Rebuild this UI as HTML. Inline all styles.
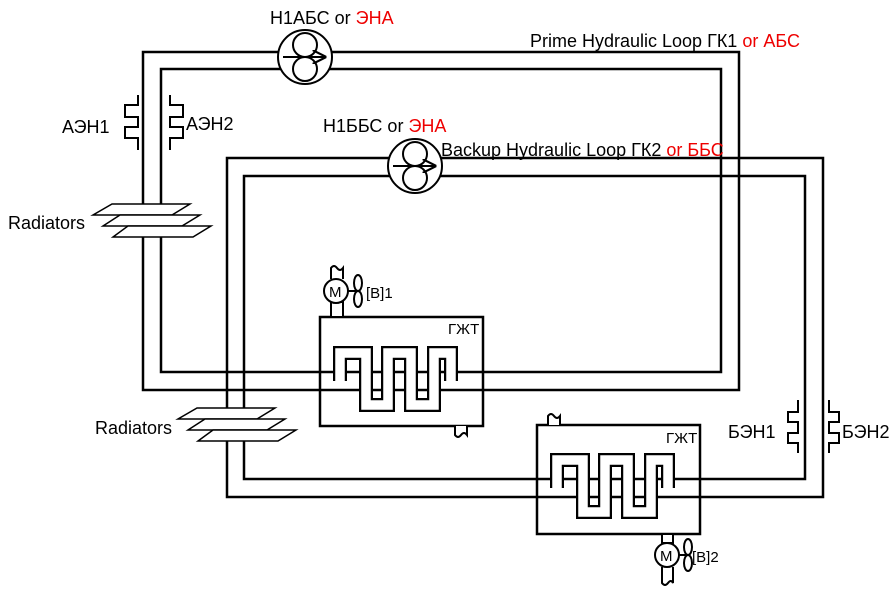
<!DOCTYPE html>
<html><head><meta charset="utf-8"><style>
html,body{margin:0;padding:0;background:#fff;}
svg text{font-family:"Liberation Sans",sans-serif;}
</style></head><body>
<svg width="895" height="594" viewBox="0 0 895 594" xmlns="http://www.w3.org/2000/svg">
<defs>
<marker id="ah" viewBox="0 0 10 10" refX="9" refY="5" markerWidth="7" markerHeight="7" orient="auto"><path d="M0,0 L10,5 L0,10" fill="none" stroke="#000" stroke-width="1.5"/></marker>
</defs>
<g fill="none" stroke="#000" stroke-width="2.5">
<rect x="143" y="52" width="596" height="338"/>
<rect x="161" y="69" width="560" height="303"/>
<rect x="227" y="158" width="596" height="339"/>
<rect x="244" y="176" width="561" height="303"/>
</g>
<g fill="#fff" stroke="#000" stroke-width="1.5">
<polygon points="112,204 190,204 172,215 93,215"/>
<polygon points="120,215 200,215 182,226 103,226"/>
<polygon points="128,226 211,226 193,237 113,237"/>
<polygon points="197,408 275,408 257,419 178,419"/>
<polygon points="205,419 285,419 267,430 188,430"/>
<polygon points="213,430 296,430 278,441 198,441"/>
</g>
<g fill="none" stroke="#000" stroke-width="2">
<path d="M138,95 V105 H125 V117 H138 V127 H125 V138 H138 V150"/>
<path d="M170,95 V105 H183 V117 H170 V127 H183 V138 H170 V150"/>
<path d="M798,400 V412 H788 V422 H798 V433 H788 V443 H798 V453"/>
<path d="M829,400 V412 H839 V422 H829 V433 H839 V443 H829 V453"/>
</g>
<g stroke="#000" stroke-width="2">
<circle cx="305" cy="57" r="27" fill="#fff"/>
<circle cx="305" cy="45" r="12" fill="none"/>
<circle cx="305" cy="69" r="12" fill="none"/>
<line x1="283" y1="57" x2="325" y2="57" marker-end="url(#ah)"/>
<circle cx="415" cy="166" r="27" fill="#fff"/>
<circle cx="415" cy="154" r="12" fill="none"/>
<circle cx="415" cy="178" r="12" fill="none"/>
<line x1="393" y1="166" x2="435" y2="166" marker-end="url(#ah)"/>
</g>
<g fill="none" stroke="#000" stroke-width="2.5">
<rect x="320" y="317" width="163" height="109"/>
<path d="M340,381 V353 H366 V405 H388 V353 H411 V405 H434 V353 H451 V381" stroke-width="14"/>
<path d="M340,384 V353 H366 V405 H388 V353 H411 V405 H434 V353 H451 V384" stroke="#fff" stroke-width="9.5"/>
<rect x="537" y="425" width="163" height="109"/>
<path d="M557,488 V460 H583 V512 H605 V460 H628 V512 H651 V460 H668 V488" stroke-width="14"/>
<path d="M557,491 V460 H583 V512 H605 V460 H628 V512 H651 V460 H668 V491" stroke="#fff" stroke-width="9.5"/>
</g>
<g fill="none" stroke="#000" stroke-width="2">
<rect x="331" y="302" width="12" height="15" fill="#fff"/>
<circle cx="336" cy="291" r="12" fill="#fff"/>
<path d="M331,279 V268 Q334,264 337,268 Q340,272 343,268 V279"/>
<line x1="348" y1="291" x2="358" y2="291"/>
<ellipse cx="358" cy="283" rx="4" ry="8"/>
<ellipse cx="358" cy="299" rx="4" ry="8"/>
<path d="M455,426 V435 Q458,439 461,435 Q464,431 467,435 V426" fill="#fff"/>
<path d="M548,425 V416 Q551,412 554,416 Q557,420 560,416 V425" fill="#fff"/>
<rect x="662" y="534" width="11" height="9" fill="#fff"/>
<path d="M662,567 V583 Q665,587 668,583 Q671,579 673,583 V567"/>
<circle cx="667" cy="555" r="12" fill="#fff"/>
<line x1="679" y1="555" x2="688" y2="555"/>
<ellipse cx="688" cy="547" rx="4" ry="8"/>
<ellipse cx="688" cy="563" rx="4" ry="8"/>
</g>
<g font-size="18" fill="#000">
<text x="270" y="24">Н1АБС or <tspan fill="#e00">ЭНА</tspan></text>
<text x="530" y="47">Prime Hydraulic Loop  ГК1 <tspan fill="#e00">or АБС</tspan></text>
<text x="323" y="132">Н1ББС or <tspan fill="#e00">ЭНА</tspan></text>
<text x="441" y="156">Backup Hydraulic Loop  ГК2 <tspan fill="#e00">or ББС</tspan></text>
<text x="62" y="133">АЭН1</text>
<text x="186" y="130">АЭН2</text>
<text x="8" y="229">Radiators</text>
<text x="95" y="434">Radiators</text>
<text x="728" y="438">БЭН1</text>
<text x="842" y="438">БЭН2</text>
</g>
<g font-size="15" fill="#000">
<text x="448" y="334">ГЖТ</text>
<text x="666" y="443">ГЖТ</text>
<text x="366" y="298">[B]1</text>
<text x="692" y="562">[B]2</text>
<text x="329" y="297" font-size="15">M</text>
<text x="660" y="561" font-size="15">M</text>
</g>
</svg>
</body></html>
